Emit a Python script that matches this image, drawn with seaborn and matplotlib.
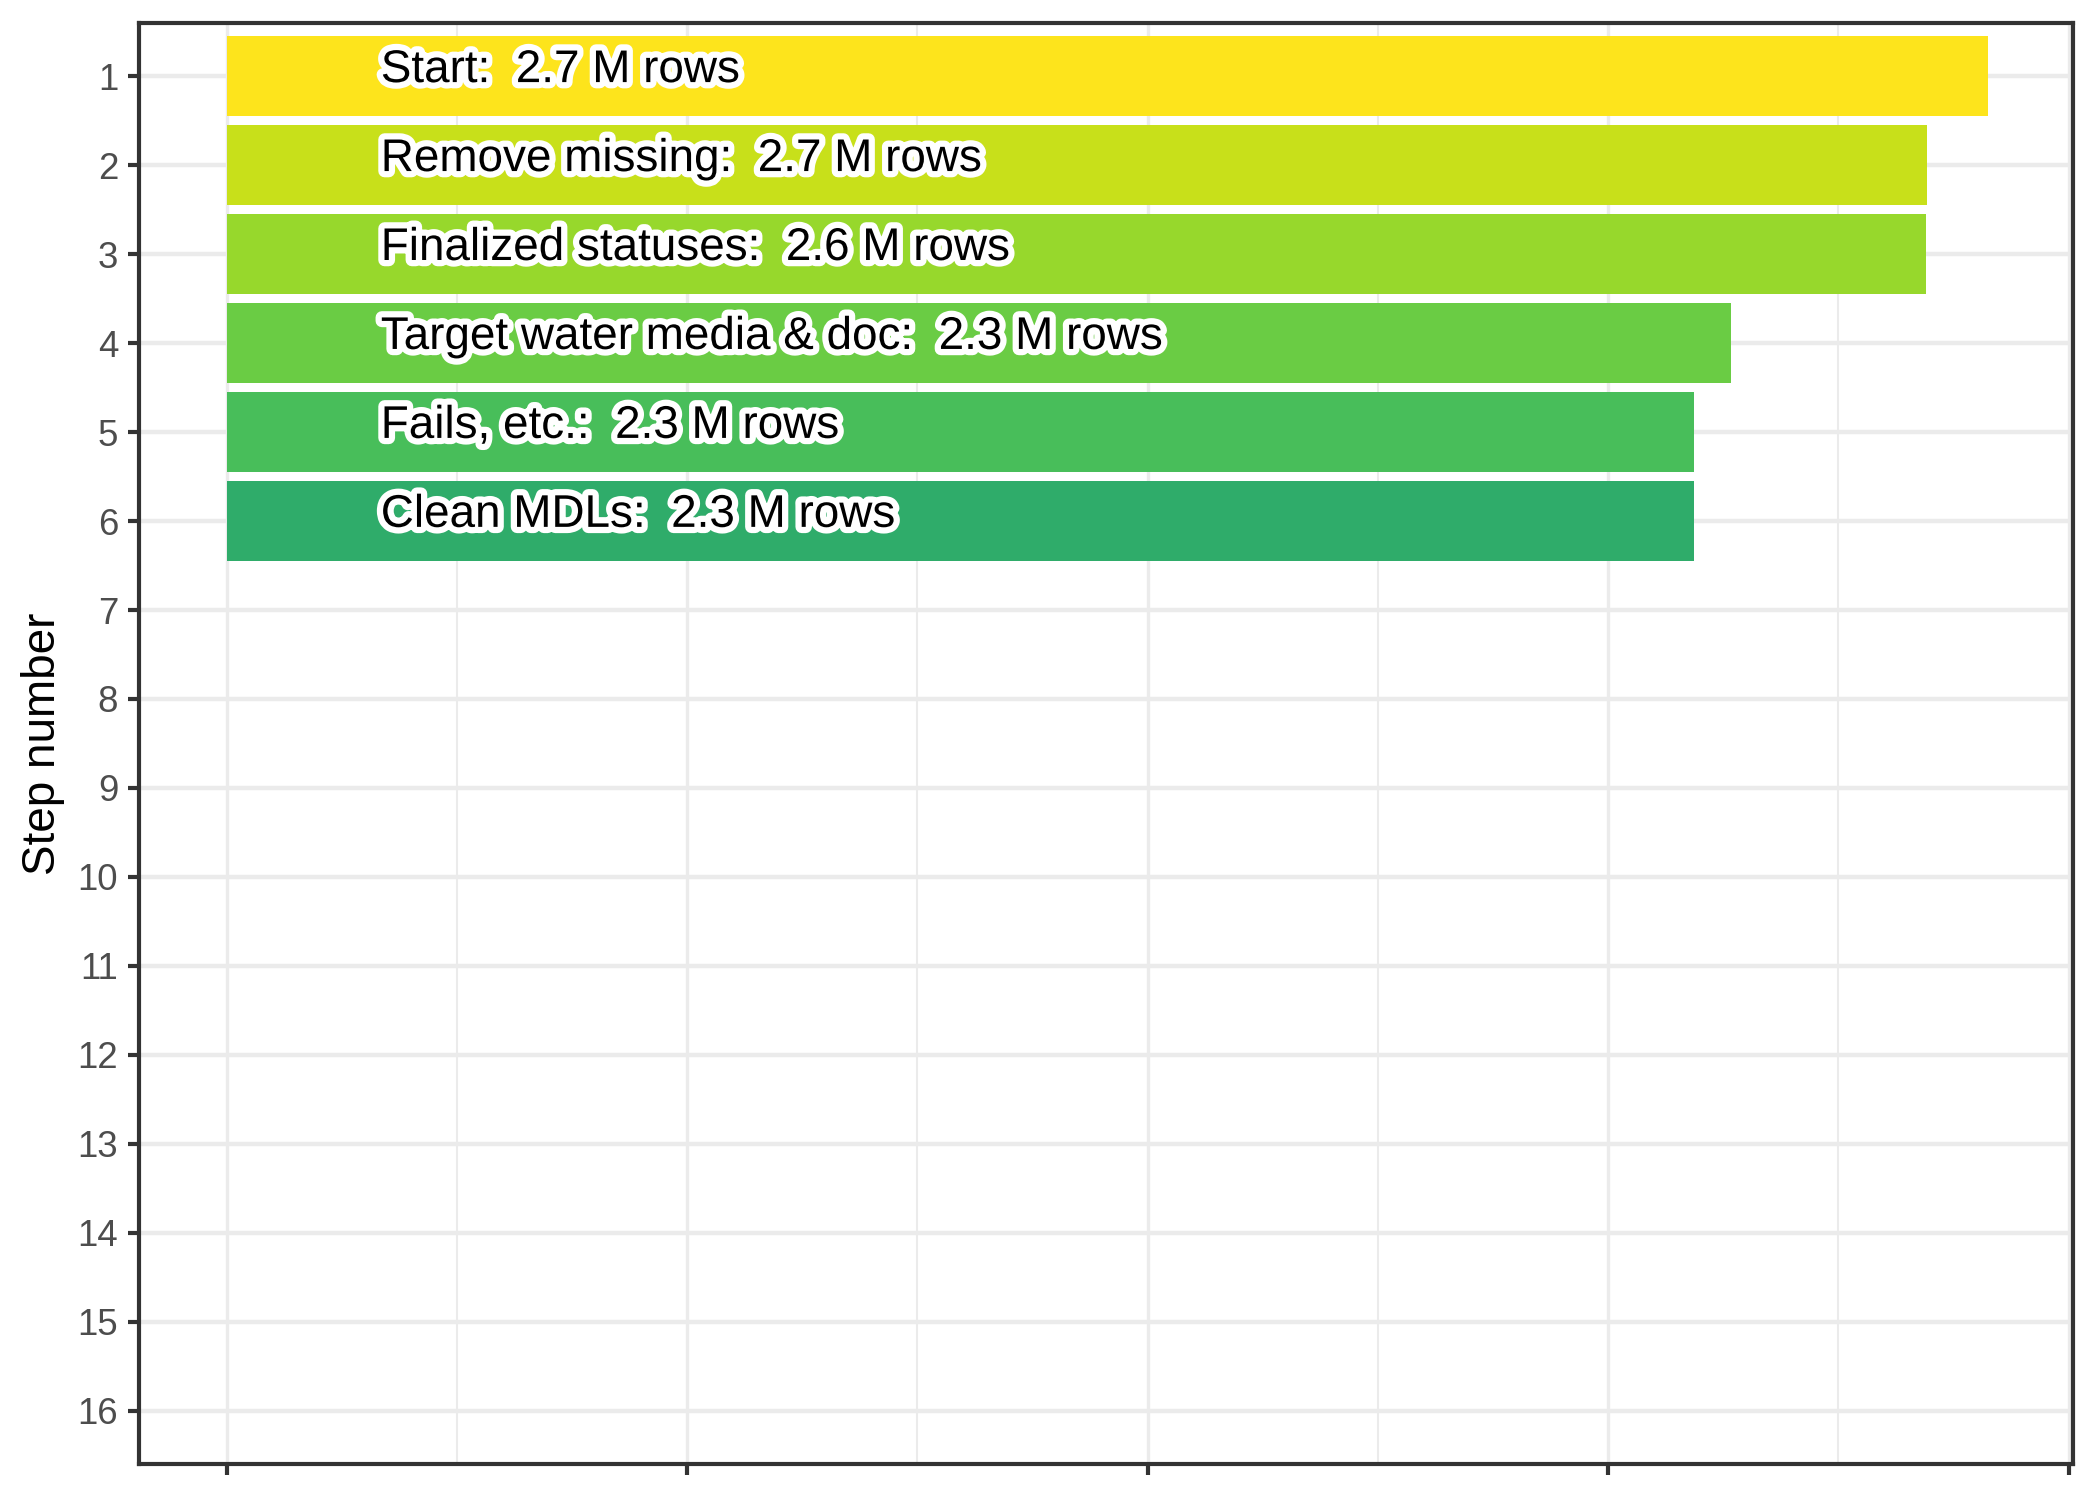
import pandas as pd
import numpy as np
import matplotlib
matplotlib.use('Agg')
import matplotlib.pyplot as plt
import matplotlib.patheffects as pe
from matplotlib.ticker import MultipleLocator, NullFormatter
import seaborn as sns

# Data (rows kept after each cleaning step)
steps = [1, 2, 3, 4, 5, 6]
step_names = ['Start', 'Remove missing', 'Finalized statuses',
              'Target water media & doc', 'Fails, etc.', 'Clean MDLs']
n_rows = [2747000, 2651000, 2649000, 2346000, 2288000, 2288000]
bar_colors = ['#FDE41C', '#C8E01A', '#97D82C', '#6ACC44', '#48BE5A', '#2FAC6A']
max_step = 16

df = pd.DataFrame({'step': steps, 'name': step_names, 'rows': n_rows})
df['label'] = [f"{n}:  {r / 1e6:.1f} M rows" for n, r in zip(df['name'], df['rows'])]

sns.set_theme(style='white')
plt.rcParams['font.family'] = ['Liberation Sans', 'DejaVu Sans']

fig = plt.figure(figsize=(7, 5), dpi=300)
ax = fig.add_axes([0.0661, 0.024, 0.921, 0.9607])

sns.barplot(data=df, x='rows', y='step', hue='label', orient='h',
            native_scale=True, width=0.9, linewidth=0, saturation=1,
            legend=False, palette=dict(zip(df['label'], bar_colors)),
            ax=ax, zorder=2)

# step labels with white outline
for _, r in df.iterrows():
    ax.text(240000, r['step'] - 0.07, r['label'], ha='left', va='center',
            fontsize=11, color='black', zorder=4,
            path_effects=[pe.withStroke(linewidth=3, foreground='white')])

xmax = df['rows'].max()
ax.set_xlim(-0.05 * xmax, 1.048 * xmax)
ax.set_ylim(max_step + 0.6, 0.4)

ax.xaxis.set_major_locator(MultipleLocator(718000))
ax.xaxis.set_minor_locator(MultipleLocator(359000))
ax.xaxis.set_major_formatter(NullFormatter())
ax.set_yticks(range(1, max_step + 1))
ax.set_yticklabels([str(i) for i in range(1, max_step + 1)])

ax.grid(False)
for v in np.arange(0, 1.048 * xmax, 718000):
    ax.axvline(v, color='#EBEBEB', lw=0.8, zorder=0)
for v in np.arange(359000, 1.048 * xmax, 718000):
    ax.axvline(v, color='#EBEBEB', lw=0.5, zorder=0)
for s in range(1, max_step + 1):
    ax.axhline(s, color='#EBEBEB', lw=1.07, zorder=0)

ax.tick_params(axis='both', which='major', direction='out', length=2.75,
               width=1.0, color='#333333', labelsize=8.8, labelcolor='#4D4D4D',
               pad=2.2, left=True, bottom=True)
ax.tick_params(axis='x', which='minor', length=0)
for sp in ax.spines.values():
    sp.set_color('#333333')
    sp.set_linewidth(1.0)

ax.set_xlabel('')
ax.set_ylabel('Step number', fontsize=11, color='black', labelpad=3.0)

fig.savefig('out.png', dpi=300)
